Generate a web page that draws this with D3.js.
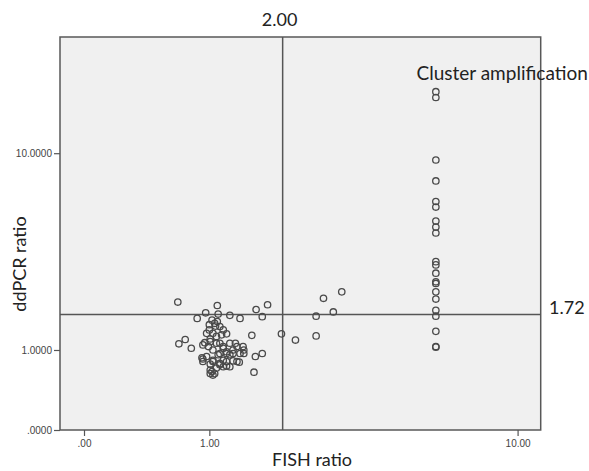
<!DOCTYPE html>
<html>
<head>
<meta charset="utf-8">
<script src="https://cdn.jsdelivr.net/npm/d3@7"></script>
<style>
    html, body { margin: 0; padding: 0; background: #fff; }
    .tick text { font-family: "Liberation Sans", Arial, sans-serif; font-size: 10px; fill: #444; }
    .tick line { stroke: #555; stroke-width: 1.2; }
    .title { font-family: Lato, "Open Sans", sans-serif; fill: #222; }
</style>
</head>
<body>
<div class="chart"></div>
<script>
// FISH ratio (x) and ddPCR ratio (y)
const fishRatio = [
    0.68, 1.09, 1.59, 1.76, 0.96, 1.10, 1.24, 0.87, 1.37, 1.68,
    1.03, 1.09, 1.00, 1.07, 1.12, 1.00, 1.16, 1.20, 0.97, 1.04,
    1.14, 1.53, 1.98, 2.22, 0.75, 0.69, 0.81, 0.95, 1.01, 1.08,
    1.12, 1.24, 1.31, 1.41, 1.42, 0.99, 1.04, 1.16, 1.20, 1.28,
    1.10, 1.24, 1.42, 1.58, 1.68, 0.92, 0.93, 1.04, 1.16, 1.36,
    1.28, 1.01, 1.12, 1.20, 1.08, 1.03, 1.01, 1.04, 1.56, 1.06,
    0.93, 1.01, 1.08, 1.16, 1.33, 1.12, 1.20, 1.28, 1.37, 0.97,
    0.93, 1.04, 1.12, 1.20, 1.33, 1.01, 1.16, 1.24, 1.06,
    2.61, 2.61, 2.76, 2.97, 3.16
];
const ddpcrRatio = [
    2.03, 1.94, 1.84, 1.96, 1.76, 1.73, 1.70, 1.63, 1.63, 1.67,
    1.59, 1.56, 1.49, 1.46, 1.45, 1.38, 1.38, 1.30, 1.31, 1.31,
    1.28, 1.27, 1.30, 1.18, 1.19, 1.11, 1.03, 1.13, 1.20, 1.25,
    1.12, 1.12, 1.12, 1.06, 1.00, 1.06, 1.00, 1.03, 0.97, 1.00,
    0.92, 0.92, 0.94, 0.89, 0.94, 0.87, 0.85, 0.83, 0.83, 0.80,
    0.82, 0.77, 0.76, 0.74, 0.71, 0.66, 0.63, 0.61, 0.65, 1.52,
    1.09, 1.15, 1.12, 1.06, 1.06, 0.94, 0.94, 0.94, 0.94, 0.89,
    0.81, 0.81, 0.78, 0.81, 0.81, 0.68, 0.73, 0.73, 0.63,
    1.68, 1.26, 2.13, 1.78, 2.31
];
// the "cluster amplification" column
const clusterFish = [
    6.0, 6.0, 6.0, 6.0, 6.0, 6.0, 6.0, 6.0, 6.0, 6.0, 6.0,
    6.0, 6.0, 6.0, 6.0, 6.0, 6.0, 6.0, 6.0, 6.0, 6.0
];
const clusterDdpcr = [
    17.74, 16.82, 9.37, 7.65, 6.24, 5.90, 5.11, 4.80, 4.51, 3.30, 3.18,
    2.89, 2.61, 2.56, 2.31, 2.11, 1.82, 1.68, 1.35, 1.06, 1.05
];

const xTicks = [0, 1, 10];
const yTicks = [0, 1, 10];
const fishCutoff = 2.00;
const ddpcrCutoff = 1.72;
const xTitle = 'FISH ratio';
const yTitle = 'ddPCR ratio';
const clusterLabel = 'Cluster amplification';

const W = 589, H = 471;
const frame = { left: 60, top: 37, right: 540.7, bottom: 430 };

const svg = d3.select('.chart').append('svg').attr('width', W).attr('height', H);

const x = d3.scaleSymlog().constant(1).domain([-0.142, 11.5]).range([frame.left, frame.right]);
const y = d3.scaleSymlog().constant(1).domain([0, 29.1]).range([frame.bottom, frame.top]);

// plot background + frame
svg.append('rect')
    .attr('x', frame.left).attr('y', frame.top)
    .attr('width', frame.right - frame.left).attr('height', frame.bottom - frame.top)
    .attr('fill', '#f0f0f0').attr('stroke', '#585858').attr('stroke-width', 1.5);

const dropZero = function (s) { return s.replace(/^0\./, '.'); };

svg.append('g').attr('transform', 'translate(0,' + frame.bottom + ')')
    .call(d3.axisBottom(x).tickValues(xTicks).tickSize(6).tickPadding(4)
        .tickFormat(function (d) { return dropZero(d3.format('.2f')(d)); }))
    .call(function (g) { g.select('.domain').remove(); });

svg.append('g').attr('transform', 'translate(' + frame.left + ',0)')
    .call(d3.axisLeft(y).tickValues(yTicks).tickSize(6).tickPadding(2)
        .tickFormat(function (d) { return dropZero(d3.format('.4f')(d)); }))
    .call(function (g) { g.select('.domain').remove(); });

// reference lines
svg.append('line')
    .attr('x1', x(fishCutoff)).attr('x2', x(fishCutoff))
    .attr('y1', frame.top).attr('y2', frame.bottom)
    .attr('stroke', '#555').attr('stroke-width', 1.5);
svg.append('line')
    .attr('x1', frame.left).attr('x2', frame.right)
    .attr('y1', y(ddpcrCutoff)).attr('y2', y(ddpcrCutoff))
    .attr('stroke', '#555').attr('stroke-width', 1.5);

const points = fishRatio.map(function (f, i) { return [f, ddpcrRatio[i]]; })
    .concat(clusterFish.map(function (f, i) { return [f, clusterDdpcr[i]]; }));

svg.append('g').selectAll('circle').data(points).enter().append('circle')
    .attr('cx', function (d) { return x(d[0]); })
    .attr('cy', function (d) { return y(d[1]); })
    .attr('r', 3.2)
    .attr('fill', 'none')
    .attr('stroke', '#4a4a4a')
    .attr('stroke-width', 1.3);

// labels
svg.append('text').attr('class', 'title').text(d3.format('.2f')(fishCutoff))
    .attr('x', x(fishCutoff) - 3).attr('y', 25.5).attr('text-anchor', 'middle').style('font-size', '18px');
svg.append('text').attr('class', 'title').text(d3.format('.2f')(ddpcrCutoff))
    .attr('x', 549).attr('y', y(ddpcrCutoff) - 0.5).style('font-size', '18px');
svg.append('text').attr('class', 'title').text(clusterLabel)
    .attr('x', 416.5).attr('y', 79.5).style('font-size', '19px');
svg.append('text').attr('class', 'title').text(xTitle)
    .attr('x', 312).attr('y', 466).attr('text-anchor', 'middle').style('font-size', '18px');
svg.append('text').attr('class', 'title').text(yTitle)
    .attr('transform', 'translate(26,264) rotate(-90)').attr('text-anchor', 'middle').style('font-size', '18px');
</script>
</body>
</html>
